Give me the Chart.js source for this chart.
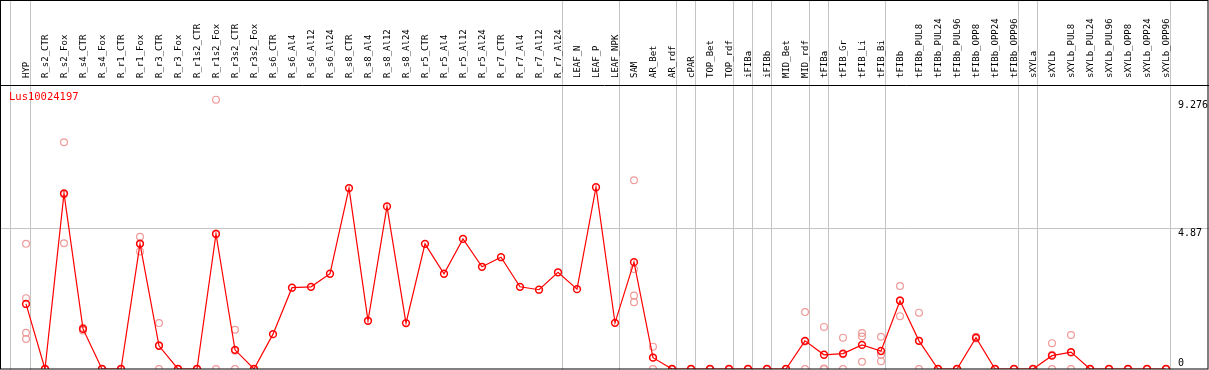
<!DOCTYPE html>
<html>
<head>
<meta charset="utf-8">
<script src="https://cdn.jsdelivr.net/npm/chart.js@4.4.1/dist/chart.umd.min.js"></script>
<style>
  html, body { margin: 0; padding: 0; background: #fff; }
  #wrap { position: relative; width: 1209px; height: 370px; }
</style>
</head>
<body>
<div id="wrap"><canvas id="c"></canvas></div>
<script>
const title = 'Lus10024197';

const categories = [
  'HYP', 'R_s2_CTR', 'R_s2_Fox', 'R_s4_CTR', 'R_s4_Fox', 'R_r1_CTR', 'R_r1_Fox',
  'R_r3_CTR', 'R_r3_Fox', 'R_r1s2_CTR', 'R_r1s2_Fox', 'R_r3s2_CTR', 'R_r3s2_Fox',
  'R_s6_CTR', 'R_s6_Al4', 'R_s6_Al12', 'R_s6_Al24', 'R_s8_CTR', 'R_s8_Al4',
  'R_s8_Al12', 'R_s8_Al24', 'R_r5_CTR', 'R_r5_Al4', 'R_r5_Al12', 'R_r5_Al24',
  'R_r7_CTR', 'R_r7_Al4', 'R_r7_Al12', 'R_r7_Al24', 'LEAF_N', 'LEAF_P', 'LEAF_NPK',
  'SAM', 'AR_Bet', 'AR_rdf', 'cPAR', 'TOP_Bet', 'TOP_rdf', 'iFIBa', 'iFIBb',
  'MID_Bet', 'MID_rdf', 'tFIBa', 'tFIB_Gr', 'tFIB_Li', 'tFIB_Bi', 'tFIBb',
  'tFIBb_PUL8', 'tFIBb_PUL24', 'tFIBb_PUL96', 'tFIBb_OPP8', 'tFIBb_OPP24', 'tFIBb_OPP96',
  'sXYLa', 'sXYLb', 'sXYLb_PUL8', 'sXYLb_PUL24', 'sXYLb_PUL96', 'sXYLb_OPP8',
  'sXYLb_OPP24', 'sXYLb_OPP96'
];

// mean expression per sample
const means = [
  2.24, 0, 6.05, 1.38, 0, 0, 4.31,
  0.80, 0, 0, 4.65, 0.66, 0,
  1.20, 2.80, 2.83, 3.28, 6.23, 1.66,
  5.60, 1.58, 4.31, 3.28, 4.48, 3.52,
  3.85, 2.83, 2.73, 3.33, 2.75, 6.26, 1.59,
  3.68, 0.39, 0, 0, 0, 0, 0, 0,
  0, 0.97, 0.49, 0.53, 0.83, 0.62, 2.35,
  0.97, 0, 0, 1.08, 0, 0,
  0, 0.46, 0.58, 0, 0, 0,
  0, 0
];

// individual replicates (same order as categories)
const replicates = [
  [4.31, 2.44, 1.25, 1.03], [0, 0], [7.81, 4.33, 6.01], [1.42, 1.38, 1.33], [0, 0], [0, 0], [4.55, 4.05, 4.33],
  [1.58, 0, 0.82], [0, 0], [0, 0], [9.276, 0, 4.67], [1.35, 0, 0.63], [0, 0],
  [], [], [], [], [], [],
  [], [], [], [], [], [],
  [], [], [], [], [], [], [],
  [6.50, 3.44, 2.53, 2.30], [0.77, 0.40, 0], [0, 0], [0, 0], [0, 0], [0, 0], [0, 0], [0, 0],
  [0, 0], [1.96, 0, 0.95], [1.45, 0, 0.02], [1.08, 0, 0.51], [1.24, 1.12, 0.25], [1.11, 0.48, 0.27], [2.86, 1.82, 2.37],
  [1.94, 0, 0.97], [0, 0], [0, 0], [1.11, 1.08, 1.05], [0, 0], [0, 0],
  [0, 0], [0.89, 0, 0.49], [1.17, 0, 0.57], [0, 0], [0, 0], [0, 0],
  [0, 0], [0, 0]
];

const yTicks = [0, 4.87, 9.276];
const gridY = 4.87;
// group separators, in category units
const dividers = [-0.83, 0.23, 28.23, 31.23, 34.23, 35.23, 37.23, 38.23, 39.23, 41.23, 42.23, 45.23, 52.23, 53.23, 60.23];

const meanPts = means.map((v, i) => ({ x: i, y: v }));
const repPts = [];
replicates.forEach((list, i) => list.forEach(v => repPts.push({ x: i, y: v })));

const MONO = '"DejaVu Sans Mono", "Liberation Mono", monospace';
const HEADER = 85;

const frame = {
  id: 'frame',
  beforeDatasetsDraw(chart) {
    const { ctx, scales: { x, y }, width } = chart;
    ctx.save();
    ctx.strokeStyle = '#c4c4c4';
    ctx.lineWidth = 1;
    dividers.forEach(d => {
      const px = Math.round(x.getPixelForValue(d)) + 0.5;
      ctx.beginPath();
      ctx.moveTo(px, 0);
      ctx.lineTo(px, chart.height);
      ctx.stroke();
    });
    const gy = Math.round(y.getPixelForValue(gridY)) + 0.5;
    ctx.beginPath();
    ctx.moveTo(0, gy);
    ctx.lineTo(width, gy);
    ctx.stroke();
    ctx.restore();
  },
  afterDraw(chart) {
    const { ctx, scales: { x, y }, width, height } = chart;
    ctx.save();
    // outer frame and header separator
    ctx.strokeStyle = '#000';
    ctx.lineWidth = 1;
    ctx.strokeRect(0.5, 0.5, width - 1.5, height - 1.5);
    ctx.beginPath();
    ctx.moveTo(0, HEADER + 0.5);
    ctx.lineTo(width, HEADER + 0.5);
    ctx.stroke();

    // rotated sample names
    ctx.fillStyle = '#000';
    ctx.font = '9px ' + MONO;
    ctx.textAlign = 'left';
    ctx.textBaseline = 'middle';
    categories.forEach((name, i) => {
      ctx.save();
      ctx.translate(Math.round(x.getPixelForValue(i)) + 0.5, 78);
      ctx.rotate(-Math.PI / 2);
      ctx.fillText(name, 0, 0);
      ctx.restore();
    });

    // value labels on the right
    ctx.font = '10px ' + MONO;
    yTicks.forEach(t => {
      const py = y.getPixelForValue(t);
      if (t === 0) {
        ctx.textBaseline = 'bottom';
        ctx.fillText(String(t), 1178, py - 1);
      } else {
        ctx.textBaseline = 'top';
        ctx.fillText(String(t), 1178, py + 1);
      }
    });

    // gene id
    ctx.fillStyle = '#ff0000';
    ctx.font = '10.5px ' + MONO;
    ctx.textBaseline = 'middle';
    ctx.fillText(title, 9, 97);
    ctx.restore();
  }
};

new Chart(document.getElementById('c'), {
  type: 'line',
  data: {
    datasets: [
      {
        label: 'mean',
        data: meanPts,
        borderColor: '#ff0000',
        borderWidth: 1.2,
        pointRadius: 3.4,
        pointBorderWidth: 1.5,
        pointBorderColor: '#ff0000',
        pointBackgroundColor: 'rgba(0,0,0,0)',
        tension: 0,
        order: 1
      },
      {
        label: 'replicates',
        type: 'scatter',
        data: repPts,
        showLine: false,
        pointRadius: 3.4,
        pointBorderWidth: 1.2,
        pointBorderColor: '#f09a9a',
        pointBackgroundColor: 'rgba(0,0,0,0)',
        order: 2
      }
    ]
  },
  options: {
    responsive: true,
    maintainAspectRatio: false,
    animation: false,
    layout: { autoPadding: false, padding: { top: HEADER, bottom: 1, left: 0, right: 0 } },
    plugins: { legend: { display: false }, tooltip: { enabled: false } },
    scales: {
      x: { type: 'linear', min: -26 / 19, max: (1209 - 26) / 19, display: false },
      y: { type: 'linear', min: 0, max: 9.78, display: false }
    }
  },
  plugins: [frame]
});
</script>
</body>
</html>
